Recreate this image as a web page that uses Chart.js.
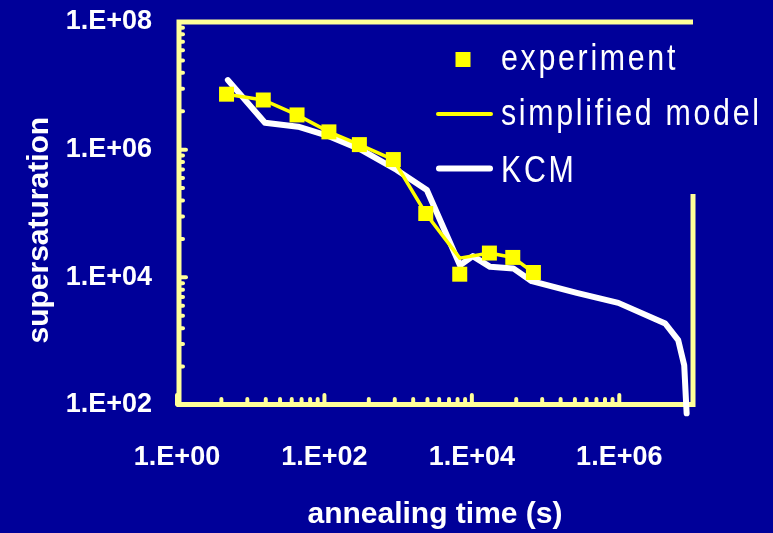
<!DOCTYPE html>
<html><head><meta charset="utf-8">
<script src="https://cdn.jsdelivr.net/npm/chart.js@4"></script>
<style>html,body{margin:0;padding:0;background:#000099;overflow:hidden}</style>
</head><body>
<canvas id="c" width="773" height="533"></canvas>
<script>
// ---- data ----
const expTime   = [4.7, 14.8, 42.5, 115, 298, 860, 2370, 6850, 17300, 35900, 68400];
const expSuper  = [7.4e6, 6.0e6, 3.5e6, 1.9e6, 1.2e6, 7.0e5, 1.0e5, 1.12e4, 2.4e4, 2.05e4, 1.19e4];
const simpleTime  = [4.7, 14.8, 42.5, 115, 298, 860, 2370, 6850, 17300, 35900, 68400];
const simpleSuper = [7.4e6, 6.0e6, 3.5e6, 1.9e6, 1.2e6, 7.0e5, 1.0e5, 2.0e4, 2.4e4, 2.05e4, 1.19e4];
const kcmTime  = [4.9, 15.6, 44, 115, 304, 957, 2450, 6900, 10300, 17700, 36500, 65000, 265000, 970000, 4.2e6, 6.3e6, 7.6e6, 8.2e6];
const kcmSuper = [1.23e7, 2.64e6, 2.29e6, 1.63e6, 1.02e6, 4.8e5, 2.33e5, 1.55e4, 2.15e4, 1.46e4, 1.38e4, 8700, 5700, 3980, 1890, 1040, 420, 74];
const xTickValues = [1, 1e2, 1e4, 1e6];
const yTickValues = [1e2, 1e4, 1e6, 1e8];
const seriesLabels = ['experiment', 'simplified model', 'KCM'];
const xTitle = 'annealing time (s)';
const yTitle = 'supersaturation    ';

const FRAME = '#FFFF99', YEL = '#FFFF00', BG = '#000099';
const FAM = '"Liberation Sans", Arial, sans-serif';
const fmt = v => '1.E+' + String(Math.round(Math.log10(v))).padStart(2, '0');
const pts = (xs, ys) => xs.map((x, i) => ({x, y: ys[i]}));
const noPad = s => { s.paddingTop = 0; s.paddingBottom = 0; s.paddingLeft = 0; s.paddingRight = 0; };

const bgPlugin = {
  id: 'bg',
  beforeDraw(chart) {
    const ctx = chart.ctx;
    ctx.save(); ctx.fillStyle = BG; ctx.fillRect(0, 0, chart.width, chart.height); ctx.restore();
  }
};

const framePlugin = {
  id: 'frame',
  beforeDatasetsDraw(chart) {
    const {ctx, chartArea: a, scales: {x, y}} = chart;
    ctx.save();
    ctx.strokeStyle = FRAME;
    const lx = a.left + 2, by = a.bottom - 0.5;
    // ticks (inward), minor at k^2 within each base-100 interval
    ctx.lineWidth = 4; ctx.lineCap = 'round';
    const ticks = (lo, hi, cb) => {
      for (let v = lo; v < hi * 1.0001; v *= 100) {
        cb(v, true);
        if (v * 100 <= hi * 1.0001) for (let k = 2; k <= 9; k++) cb(v * k * k, false);
      }
    };
    ticks(1e2, 1e8, (v, major) => {
      const p = y.getPixelForValue(v);
      ctx.beginPath(); ctx.moveTo(lx, p); ctx.lineTo(lx + (major ? 7 : 4), p); ctx.stroke();
    });
    ticks(1, 1e6, (v, major) => {
      const p = x.getPixelForValue(v);
      ctx.beginPath(); ctx.moveTo(p, by); ctx.lineTo(p, by - (major ? 9.5 : 5.5)); ctx.stroke();
    });
    // frame lines
    ctx.lineWidth = 5; ctx.lineCap = 'butt';
    ctx.beginPath();
    ctx.moveTo(lx, a.top - 2.5); ctx.lineTo(lx, by + 2.5);
    ctx.moveTo(lx - 2.5, a.top); ctx.lineTo(a.right, a.top);
    ctx.moveTo(lx - 2.5, by); ctx.lineTo(a.right + 2, by);
    ctx.moveTo(a.right, 194); ctx.lineTo(a.right, by + 2.5);
    ctx.stroke();
    ctx.restore();
  }
};

const legendPlugin = {
  id: 'customLegend',
  afterDraw(chart) {
    const ctx = chart.ctx;
    ctx.save();
    ctx.fillStyle = YEL; ctx.fillRect(455.5, 52, 15, 15);
    ctx.lineCap = 'round';
    ctx.strokeStyle = YEL; ctx.lineWidth = 4;
    ctx.beginPath(); ctx.moveTo(438, 114); ctx.lineTo(491, 114); ctx.stroke();
    ctx.strokeStyle = '#FFFFFF'; ctx.lineWidth = 6;
    ctx.beginPath(); ctx.moveTo(439, 168.5); ctx.lineTo(490, 168.5); ctx.stroke();
    const base = [70, 125, 182];
    ctx.fillStyle = '#FFFFFF';
    ctx.font = '37px ' + FAM;
    ctx.textBaseline = 'alphabetic'; ctx.textAlign = 'left';
    seriesLabels.forEach((t, i) => {
      ctx.save();
      ctx.translate(501, base[i]);
      ctx.scale(0.82, 1);
      try { ctx.letterSpacing = (2.7 / 0.82).toFixed(2) + 'px'; } catch (e) {}
      ctx.fillText(t, 0, 0);
      ctx.restore();
    });
    ctx.restore();
  }
};

new Chart(document.getElementById('c'), {
  type: 'line',
  data: {
    datasets: [
      { label: seriesLabels[0], data: pts(expTime, expSuper), showLine: false,
        pointStyle: 'rect', pointRadius: 10.6, pointHoverRadius: 10.6,
        backgroundColor: YEL, borderColor: YEL, borderWidth: 0, order: 0 },
      { label: seriesLabels[1], data: pts(simpleTime, simpleSuper), borderColor: YEL,
        borderWidth: 3.5, pointRadius: 0, tension: 0, fill: false, order: 1 },
      { label: seriesLabels[2], data: pts(kcmTime, kcmSuper), borderColor: '#FFFFFF',
        borderWidth: 6, pointRadius: 0, tension: 0, fill: false, clip: false,
        borderJoinStyle: 'round', borderCapStyle: 'round', order: 2 }
    ]
  },
  options: {
    responsive: false, animation: false, devicePixelRatio: 1,
    layout: { padding: { top: 22, right: 80, left: 0, bottom: 0 } },
    plugins: { legend: { display: false }, tooltip: { enabled: false } },
    scales: {
      x: {
        type: 'logarithmic', min: 1, max: 1e7,
        afterBuildTicks: s => { s.ticks = xTickValues.map(v => ({ value: v })); },
        afterFit: s => { s.height = 128; noPad(s); },
        ticks: { callback: v => fmt(v), color: '#FFFFFF', autoSkip: false, maxRotation: 0,
                 font: { family: FAM, size: 27, weight: 'bold' }, padding: 36 },
        grid: { display: false, drawTicks: false }, border: { display: false },
        title: { display: true, text: xTitle, color: '#FFFFFF',
                 font: { family: FAM, size: 30, weight: 'bold' }, padding: { top: 0, bottom: 0 } }
      },
      y: {
        type: 'logarithmic', min: 1e2, max: 1e8,
        afterBuildTicks: s => { s.ticks = yTickValues.map(v => ({ value: v })); },
        afterFit: s => { s.width = 177; noPad(s); },
        ticks: { callback: v => fmt(v), color: '#FFFFFF', autoSkip: false,
                 font: { family: FAM, size: 27, weight: 'bold' }, padding: 25 },
        grid: { display: false, drawTicks: false }, border: { display: false },
        title: { display: true, text: yTitle, color: '#FFFFFF',
                 font: { family: FAM, size: 30, weight: 'bold' }, padding: { top: 22, bottom: 0 } }
      }
    }
  },
  plugins: [bgPlugin, framePlugin, legendPlugin]
});
</script>
</body></html>
